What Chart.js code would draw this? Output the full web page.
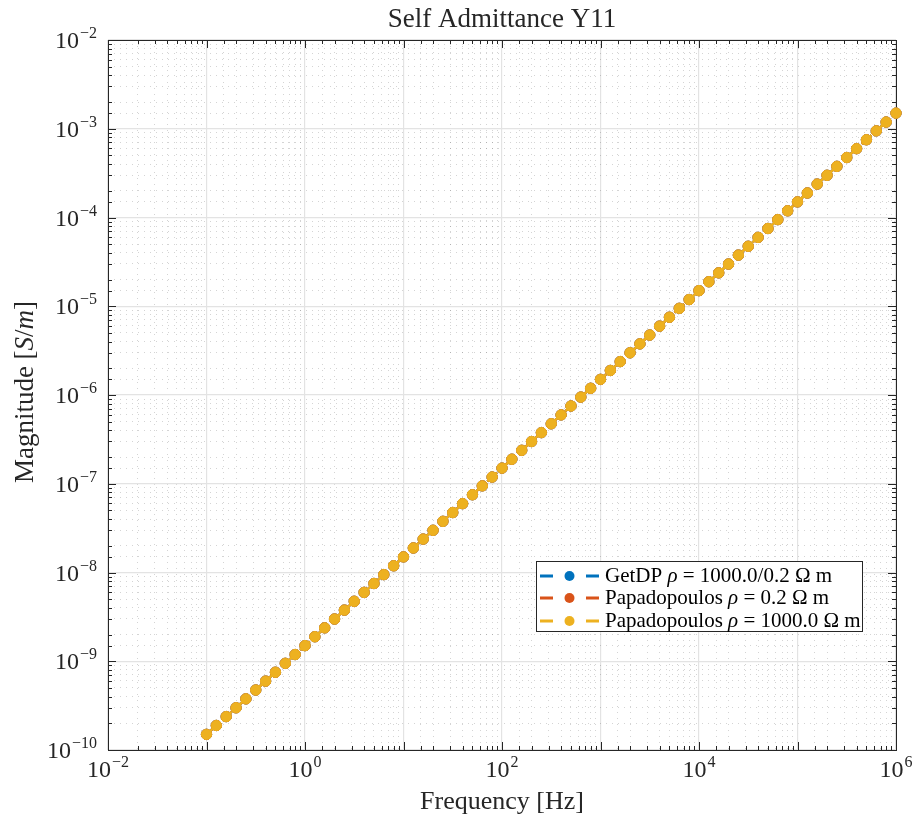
<!DOCTYPE html>
<html>
<head>
<meta charset="utf-8">
<script src="https://cdn.jsdelivr.net/npm/chart.js@4/dist/chart.umd.min.js"></script>
<style>
  html, body { margin: 0; padding: 0; background: #fff; }
</style>
</head>
<body>
<canvas id="admittance" width="914" height="820"></canvas>
<script>
// frequency sweep [Hz], 10 points per decade
const frequency = [
  0.1, 0.1259, 0.1585, 0.1995, 0.2512, 0.3162, 0.3981, 0.5012, 0.631, 0.7943,
  1, 1.259, 1.585, 1.995, 2.512, 3.162, 3.981, 5.012, 6.31, 7.943,
  10, 12.59, 15.85, 19.95, 25.12, 31.62, 39.81, 50.12, 63.1, 79.43,
  100, 125.9, 158.5, 199.5, 251.2, 316.2, 398.1, 501.2, 631, 794.3,
  1000, 1259, 1585, 1995, 2512, 3162, 3981, 5012, 6310, 7943,
  1e4, 1.259e4, 1.585e4, 1.995e4, 2.512e4, 3.162e4, 3.981e4, 5.012e4, 6.31e4, 7.943e4,
  1e5, 1.259e5, 1.585e5, 1.995e5, 2.512e5, 3.162e5, 3.981e5, 5.012e5, 6.31e5, 7.943e5,
  1e6
];

// |Y11| [S/m] - the three curves sit on top of each other
const getdpMag = [
  1.5e-10, 1.89e-10, 2.38e-10, 2.99e-10, 3.77e-10, 4.74e-10, 5.97e-10, 7.52e-10, 9.47e-10, 1.19e-9,
  1.5e-9, 1.89e-9, 2.38e-9, 2.99e-9, 3.77e-9, 4.74e-9, 5.97e-9, 7.52e-9, 9.47e-9, 1.19e-8,
  1.5e-8, 1.89e-8, 2.38e-8, 2.99e-8, 3.77e-8, 4.74e-8, 5.97e-8, 7.52e-8, 9.47e-8, 1.19e-7,
  1.5e-7, 1.89e-7, 2.38e-7, 2.99e-7, 3.77e-7, 4.74e-7, 5.97e-7, 7.52e-7, 9.47e-7, 1.19e-6,
  1.5e-6, 1.89e-6, 2.38e-6, 2.99e-6, 3.77e-6, 4.74e-6, 5.97e-6, 7.52e-6, 9.47e-6, 1.19e-5,
  1.5e-5, 1.89e-5, 2.38e-5, 2.99e-5, 3.77e-5, 4.74e-5, 5.97e-5, 7.52e-5, 9.47e-5, 1.19e-4,
  1.5e-4, 1.89e-4, 2.38e-4, 2.99e-4, 3.77e-4, 4.74e-4, 5.97e-4, 7.52e-4, 9.47e-4, 1.19e-3,
  1.5e-3
];
const papaLowMag = [
  1.5e-10, 1.89e-10, 2.38e-10, 2.99e-10, 3.77e-10, 4.74e-10, 5.97e-10, 7.52e-10, 9.47e-10, 1.19e-9,
  1.5e-9, 1.89e-9, 2.38e-9, 2.99e-9, 3.77e-9, 4.74e-9, 5.97e-9, 7.52e-9, 9.47e-9, 1.19e-8,
  1.5e-8, 1.89e-8, 2.38e-8, 2.99e-8, 3.77e-8, 4.74e-8, 5.97e-8, 7.52e-8, 9.47e-8, 1.19e-7,
  1.5e-7, 1.89e-7, 2.38e-7, 2.99e-7, 3.77e-7, 4.74e-7, 5.97e-7, 7.52e-7, 9.47e-7, 1.19e-6,
  1.5e-6, 1.89e-6, 2.38e-6, 2.99e-6, 3.77e-6, 4.74e-6, 5.97e-6, 7.52e-6, 9.47e-6, 1.19e-5,
  1.5e-5, 1.89e-5, 2.38e-5, 2.99e-5, 3.77e-5, 4.74e-5, 5.97e-5, 7.52e-5, 9.47e-5, 1.19e-4,
  1.5e-4, 1.89e-4, 2.38e-4, 2.99e-4, 3.77e-4, 4.74e-4, 5.97e-4, 7.52e-4, 9.47e-4, 1.19e-3,
  1.5e-3
];
const papaHighMag = [
  1.5e-10, 1.89e-10, 2.38e-10, 2.99e-10, 3.77e-10, 4.74e-10, 5.97e-10, 7.52e-10, 9.47e-10, 1.19e-9,
  1.5e-9, 1.89e-9, 2.38e-9, 2.99e-9, 3.77e-9, 4.74e-9, 5.97e-9, 7.52e-9, 9.47e-9, 1.19e-8,
  1.5e-8, 1.89e-8, 2.38e-8, 2.99e-8, 3.77e-8, 4.74e-8, 5.97e-8, 7.52e-8, 9.47e-8, 1.19e-7,
  1.5e-7, 1.89e-7, 2.38e-7, 2.99e-7, 3.77e-7, 4.74e-7, 5.97e-7, 7.52e-7, 9.47e-7, 1.19e-6,
  1.5e-6, 1.89e-6, 2.38e-6, 2.99e-6, 3.77e-6, 4.74e-6, 5.97e-6, 7.52e-6, 9.47e-6, 1.19e-5,
  1.5e-5, 1.89e-5, 2.38e-5, 2.99e-5, 3.77e-5, 4.74e-5, 5.97e-5, 7.52e-5, 9.47e-5, 1.19e-4,
  1.5e-4, 1.89e-4, 2.38e-4, 2.99e-4, 3.77e-4, 4.74e-4, 5.97e-4, 7.52e-4, 9.47e-4, 1.19e-3,
  1.5e-3
];

const xExponents = [-2, 0, 2, 4, 6];
const yExponents = [-10, -9, -8, -7, -6, -5, -4, -3, -2];

const seriesNames = ["GetDP", "Papadopoulos", "Papadopoulos"];
const seriesRho = ["1000.0/0.2", "0.2", "1000.0"];
const seriesColors = ["#0072BD", "#D95319", "#EDB120"];

const SERIF = '"Liberation Serif", "DejaVu Serif", serif';
const INK = "#262626";

function isDecade(v) {
  let l = Math.log10(v);
  return Math.abs(l - Math.round(l)) < 1e-6;
}

function points(ys) {
  return frequency.map((f, i) => ({x: f, y: ys[i]}));
}

function makeSet(i, ys, order) {
  return {
    label: seriesNames[i] + " rho = " + seriesRho[i],
    data: points(ys),
    borderColor: seriesColors[i],
    backgroundColor: seriesColors[i],
    pointBackgroundColor: seriesColors[i],
    pointBorderColor: seriesColors[i],
    pointRadius: 5.2,
    pointBorderWidth: 1,
    borderWidth: 2.5,
    borderDash: [13, 8],
    tension: 0,
    clip: false,
    order: order
  };
}

// 10 with superscript exponent, baseline at y
function drawPower(ctx, exp, x, y, align) {
  let sup = exp < 0 ? "\u2212" + (-exp) : String(exp);
  ctx.font = "24px " + SERIF;
  let wb = ctx.measureText("10").width;
  ctx.font = "16px " + SERIF;
  let ws = ctx.measureText(sup).width;
  let total = wb + 1 + ws;
  let left = align === "right" ? x - total : x - total / 2;
  ctx.textAlign = "left";
  ctx.textBaseline = "alphabetic";
  ctx.font = "24px " + SERIF;
  ctx.fillText("10", left, y);
  ctx.font = "16px " + SERIF;
  ctx.fillText(sup, left + wb + 1, y - 10);
}

// draws a run of [text, italic] pieces, returns end x
function drawRuns(ctx, runs, x, y, size) {
  ctx.textAlign = "left";
  runs.forEach(r => {
    ctx.font = (r[1] ? "italic " : "") + size + "px " + SERIF;
    ctx.fillText(r[0], x, y);
    x += ctx.measureText(r[0]).width;
  });
  return x;
}

const framePlugin = {
  id: "matlabFrame",
  beforeDatasetsDraw(chart) {
    let ctx = chart.ctx;
    let a = chart.chartArea;
    let xs = chart.scales.x, ys = chart.scales.y;
    ctx.save();
    ctx.strokeStyle = INK;
    ctx.lineWidth = 1;
    ctx.beginPath();
    xs.ticks.forEach(t => {
      let px = Math.round(xs.getPixelForValue(t.value)) + 0.5;
      let len = isDecade(t.value) ? 8 : 4;
      ctx.moveTo(px, a.bottom); ctx.lineTo(px, a.bottom - len);
      ctx.moveTo(px, a.top); ctx.lineTo(px, a.top + len);
    });
    ys.ticks.forEach(t => {
      let py = Math.round(ys.getPixelForValue(t.value)) + 0.5;
      let len = isDecade(t.value) ? 8 : 4;
      ctx.moveTo(a.left, py); ctx.lineTo(a.left + len, py);
      ctx.moveTo(a.right, py); ctx.lineTo(a.right - len, py);
    });
    ctx.stroke();
    ctx.strokeRect(Math.round(a.left) + 0.5, Math.round(a.top) + 0.5,
      Math.round(a.right - a.left), Math.round(a.bottom - a.top));
    ctx.restore();
  },
  afterDraw(chart) {
    let ctx = chart.ctx;
    let a = chart.chartArea;
    let xs = chart.scales.x, ys = chart.scales.y;
    let cx = (a.left + a.right) / 2;
    ctx.save();
    ctx.fillStyle = INK;

    xExponents.forEach(e => drawPower(ctx, e, xs.getPixelForValue(Math.pow(10, e)), a.bottom + 27, "center"));
    yExponents.forEach(e => drawPower(ctx, e, a.left - 11, ys.getPixelForValue(Math.pow(10, e)) + 8, "right"));

    // title
    ctx.font = "27px " + SERIF;
    ctx.textAlign = "center";
    ctx.textBaseline = "alphabetic";
    ctx.fillText("Self Admittance Y11", cx, 27);

    // x axis title
    ctx.font = "26px " + SERIF;
    ctx.fillText("Frequency [Hz]", cx, 809);

    // y axis title with italic S/m
    let yRuns = [["Magnitude [", false], ["S", true], ["/", false], ["m", true], ["]", false]];
    ctx.save();
    ctx.translate(33, 392);
    ctx.rotate(-Math.PI / 2);
    let w = 0;
    yRuns.forEach(r => { ctx.font = (r[1] ? "italic " : "") + "27px " + SERIF; w += ctx.measureText(r[0]).width; });
    drawRuns(ctx, yRuns, -w / 2, 0, 27);
    ctx.restore();

    // legend
    let lx = 536, ly = 561, lw = 326, lh = 70;
    ctx.fillStyle = "#fff";
    ctx.fillRect(lx, ly, lw, lh);
    ctx.strokeStyle = INK;
    ctx.lineWidth = 1;
    ctx.strokeRect(lx + 0.5, ly + 0.5, lw, lh);
    let rows = [576, 598, 621];
    rows.forEach((ry, i) => {
      ctx.strokeStyle = seriesColors[i];
      ctx.fillStyle = seriesColors[i];
      ctx.lineWidth = 3;
      ctx.beginPath();
      ctx.moveTo(540, ry); ctx.lineTo(553, ry);
      ctx.moveTo(586, ry); ctx.lineTo(599, ry);
      ctx.stroke();
      ctx.beginPath();
      ctx.arc(569.5, ry, 5, 0, Math.PI * 2);
      ctx.fill();
      ctx.fillStyle = "#000";
      ctx.textBaseline = "alphabetic";
      drawRuns(ctx, [[seriesNames[i] + " ", false], ["\u03c1", true],
        [" = " + seriesRho[i] + " \u03a9 m", false]], 605, ry + 6, 21);
    });
    ctx.restore();
  }
};

const gridColor = c => isDecade(c.tick.value) ? "#e3e3e3" : "rgba(38,38,38,0.2)";
const gridWidth = c => isDecade(c.tick.value) ? 1.2 : 1;
const gridDash = c => isDecade(c.tick.value) ? [] : [1, 5];

new Chart(document.getElementById("admittance"), {
  type: "line",
  data: {
    datasets: [
      makeSet(0, getdpMag, 3),
      makeSet(1, papaLowMag, 2),
      makeSet(2, papaHighMag, 1)
    ]
  },
  options: {
    responsive: false,
    animation: false,
    events: [],
    layout: {padding: {left: 108, right: 18, top: 40, bottom: 70}},
    plugins: {
      legend: {display: false},
      tooltip: {enabled: false},
      title: {display: false}
    },
    scales: {
      x: {
        type: "logarithmic",
        min: 1e-2,
        max: 1e6,
        ticks: {display: false, autoSkip: false},
        grid: {color: gridColor, lineWidth: gridWidth, drawTicks: false},
        border: {display: false, dash: gridDash}
      },
      y: {
        type: "logarithmic",
        min: 1e-10,
        max: 1e-2,
        ticks: {display: false, autoSkip: false},
        grid: {color: gridColor, lineWidth: gridWidth, drawTicks: false},
        border: {display: false, dash: gridDash}
      }
    }
  },
  plugins: [framePlugin]
});
</script>
</body>
</html>
